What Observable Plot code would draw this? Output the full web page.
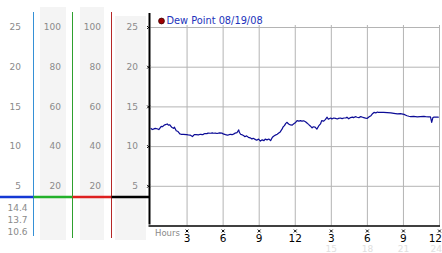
<!DOCTYPE html>
<html><head><meta charset="utf-8">
<script src="https://cdn.jsdelivr.net/npm/d3@7"></script>
<script src="https://cdn.jsdelivr.net/npm/@observablehq/plot@0.6"></script>
<style>
html,body{margin:0;padding:0;background:#fff;}
#chart{width:442px;height:253px;overflow:hidden;position:relative;}
#chart svg{display:block;}
</style></head><body><div id="chart"></div>
<script>
const hours = [0,0.1,0.2,0.35,0.5,0.65,0.85,0.95,1.1,1.35,
1.45,1.55,1.75,1.9,1.95,2.1,2.25,2.4,2.5,2.7,
2.95,3.1,3.25,3.45,3.6,3.75,3.95,4.1,4.3,4.4,
4.5,4.65,4.75,4.95,5.1,5.2,5.35,5.5,5.7,5.9,
6.0,6.2,6.35,6.45,6.6,6.75,6.9,7.0,7.15,7.3,
7.35,7.45,7.6,7.7,7.8,7.95,8.1,8.25,8.4,8.5,
8.7,8.8,8.95,9.1,9.25,9.4,9.5,9.65,9.8,9.95,
10.1,10.2,10.35,10.5,10.6,10.75,10.9,11.0,11.1,11.2,
11.3,11.45,11.6,11.75,11.85,12.0,12.15,12.3,12.45,12.55,
12.7,12.85,13.0,13.1,13.25,13.4,13.5,13.65,13.8,13.95,
14.1,14.2,14.35,14.5,14.65,14.75,14.95,15.05,15.2,15.35,
15.5,15.6,15.75,15.9,16.05,16.2,16.3,16.45,16.6,16.75,
16.85,17.0,17.15,17.3,17.45,17.6,17.7,17.85,18.0,18.15,
18.3,18.4,18.55,18.7,18.85,18.95,19.1,19.35,19.65,19.95,
20.2,20.5,20.75,21.05,21.2,21.3,21.45,21.6,21.85,22.15,
22.4,22.7,22.85,23.1,23.25,23.35,23.45,23.55,23.8,23.9];
const dewPoint = [12.3,12.15,12.2,12.3,12.25,12.15,12.55,12.5,12.7,12.85,
12.7,12.75,12.4,12.3,12.45,12.0,11.9,11.6,11.55,11.55,
11.5,11.47,11.45,11.26,11.5,11.5,11.47,11.55,11.5,11.6,
11.65,11.63,11.7,11.68,11.72,11.68,11.7,11.65,11.72,11.7,
11.6,11.5,11.45,11.47,11.55,11.5,11.6,11.7,11.75,12.1,
11.8,11.55,11.47,11.4,11.25,11.35,11.17,11.1,10.95,11.05,
10.88,10.8,10.95,10.7,10.85,10.75,10.95,10.85,10.95,10.75,
11.17,11.3,11.45,11.55,11.67,11.85,12.2,12.5,12.64,12.9,
13.06,12.85,12.73,12.7,12.85,13.0,13.27,13.2,13.27,13.2,
13.25,13.14,12.95,12.8,12.6,12.35,12.5,12.45,12.2,12.6,
12.85,13.27,13.2,13.4,13.7,13.45,13.6,13.48,13.6,13.55,
13.48,13.55,13.6,13.52,13.6,13.6,13.7,13.5,13.65,13.72,
13.65,13.77,13.7,13.65,13.78,13.7,13.65,13.58,13.56,13.75,
13.9,14.1,14.3,14.25,14.35,14.3,14.32,14.3,14.28,14.24,
14.18,14.11,14.15,14.06,13.95,13.88,13.82,13.77,13.8,13.75,
13.78,13.8,13.77,13.75,13.75,13.06,13.65,13.72,13.7,13.7];
const yTicks = [5,10,15,20,25];
const pctTicks = [20,40,60,80,100];
const xTicks = [3,6,9,12,15,18,21,24];
const xTickLabels = ["3","6","9","12","3","6","9","12"];
const xFaintTicks = [15,18,21,24];
const stats = ["14.4","13.7","10.6"];
const legendLabel = "Dew Point 08/19/08";
const xLabel = "Hours";

const FONT = "DejaVu Sans, Verdana, sans-serif";
const GRID = "#b4b4b4";
const LABEL = "#8a8a8a";

// decorative left legend-axis panel (backgrounds and coloured separators)
function leftPanel() {
  const g = d3.create("svg:g");
  const bg = [[40,7,26,233],[80,7,24,233],[115,16,31,224]];
  for (const [x,y,w,h] of bg) g.append("rect").attr("x",x).attr("y",y).attr("width",w).attr("height",h).attr("fill","#f4f4f4");
  const sepY = 197;
  const segs = [[0,33.5,"#1438d4"],[33.5,72.5,"#22b02a"],[72.5,111.5,"#dd2020"],[111.5,149,"#000"]];
  const vcol = [[33.5,12,236,"#3590d6"],[72.5,12,238,"#2ea02e"],[111.5,12,238,"#b52828"]];
  for (const [x,y1,y2,c] of vcol) g.append("line").attr("x1",x).attr("x2",x).attr("y1",y1).attr("y2",y2).attr("stroke",c).attr("stroke-width",1);
  for (const [x1,x2,c] of segs) g.append("line").attr("x1",x1).attr("x2",x2).attr("y1",sepY).attr("y2",sepY).attr("stroke",c).attr("stroke-width",2.5);
  return g.node();
}

const axisText = {anchor:"left", tickSize:0, tickPadding:0, textAnchor:"end", fill:LABEL, fontSize:9, fontFamily:FONT};
const nX = xTicks.length, nF = xFaintTicks.length;
const tickLabel = {frameAnchor: "bottom", dy: 12.5, fill: "#000", fontSize: 10.5, lineAnchor: "middle"};
const faintLabel = {frameAnchor: "bottom", dy: 23, fill: "#e0e0e0", fontSize: 9, lineAnchor: "middle"};

const chart = Plot.plot({
  width: 442, height: 253,
  marginLeft: 150.5, marginRight: 3, marginTop: 27, marginBottom: 27.5,
  style: {fontFamily: FONT, background: "#fff", overflow: "visible"},
  x: {domain: [0,24], axis: null},
  y: {domain: [0,25]},
  marks: [
    leftPanel,
    Plot.gridX(xTicks, {stroke: GRID, strokeOpacity: 1, insetTop: -2}),
    Plot.gridY(yTicks, {stroke: GRID, strokeOpacity: 1, insetRight: -1}),
    Plot.ruleY([0], {stroke: "#000", strokeWidth: 1.5, insetLeft: -2, insetRight: -1}),
    Plot.ruleX([0], {dx: -1.5, stroke: "#000", strokeWidth: 2, insetTop: -14, insetBottom: 1}),
    Plot.axisY(yTicks, {...axisText, dx: -130}),
    Plot.axisY(yTicks, {...axisText, dx: -90, tickFormat: (d, i) => pctTicks[i]}),
    Plot.axisY(yTicks, {...axisText, dx: -50, tickFormat: (d, i) => pctTicks[i]}),
    Plot.axisY(yTicks, {...axisText, dx: -13}),
    Plot.dot(yTicks, {y: d => d, frameAnchor: "left", dx: -2.5, symbol: "times", r: 1.4, stroke: "#000", strokeWidth: 1}),
    Plot.dot(xTicks, {x: d => d, frameAnchor: "bottom", dy: 5, symbol: "times", r: 1.4, stroke: "#000", strokeWidth: 1}),
    Plot.text(xFaintTicks.slice(0, nF - 1), {x: d => d, text: d => String(d), ...faintLabel}),
    Plot.text(xFaintTicks.slice(nF - 1), {x: d => d, text: d => String(d), ...faintLabel, textAnchor: "end", dx: 2.5}),
    Plot.text(xTicks.slice(0, nX - 1), {x: d => d, text: (d, i) => xTickLabels[i], ...tickLabel}),
    Plot.text(xTicks.slice(nX - 1), {x: d => d, text: () => xTickLabels[nX - 1], ...tickLabel, textAnchor: "end", dx: 2.5}),
    Plot.text([xLabel], {text: d => d, frameAnchor: "bottom-left", dx: 4, dy: 7, textAnchor: "start", fill: LABEL, fontSize: 8.5, lineAnchor: "middle"}),
    Plot.line(dewPoint, {x: (d, i) => hours[i], y: d => d, stroke: "#0c0c96", strokeWidth: 1.2}),
    Plot.dot([legendLabel], {frameAnchor: "top-left", dx: 10.5, dy: -6.5, r: 2.9, fill: "#a00000", stroke: "#3a0000", strokeWidth: 0.8}),
    Plot.text([legendLabel], {text: d => d, frameAnchor: "top-left", dx: 15.5, dy: -6.5, textAnchor: "start", fill: "#2233bb", fontSize: 9.8, lineAnchor: "middle"})
  ]
});
const c = document.getElementById("chart");
c.appendChild(chart);

// min/current/max column below the separator
const statsPlot = Plot.plot({
  width: 40, height: 253, margin: 0,
  style: {position: "absolute", left: "0px", top: "0px", background: "transparent", fontFamily: FONT},
  x: {axis: null}, y: {axis: null, type: "band", domain: stats, range: [199, 239]},
  marks: [
    Plot.text(stats, {y: d => d, text: d => d, frameAnchor: "right", dx: -13, textAnchor: "end", fill: LABEL, fontSize: 9})
  ]
});
c.appendChild(statsPlot);
</script>
</body></html>
